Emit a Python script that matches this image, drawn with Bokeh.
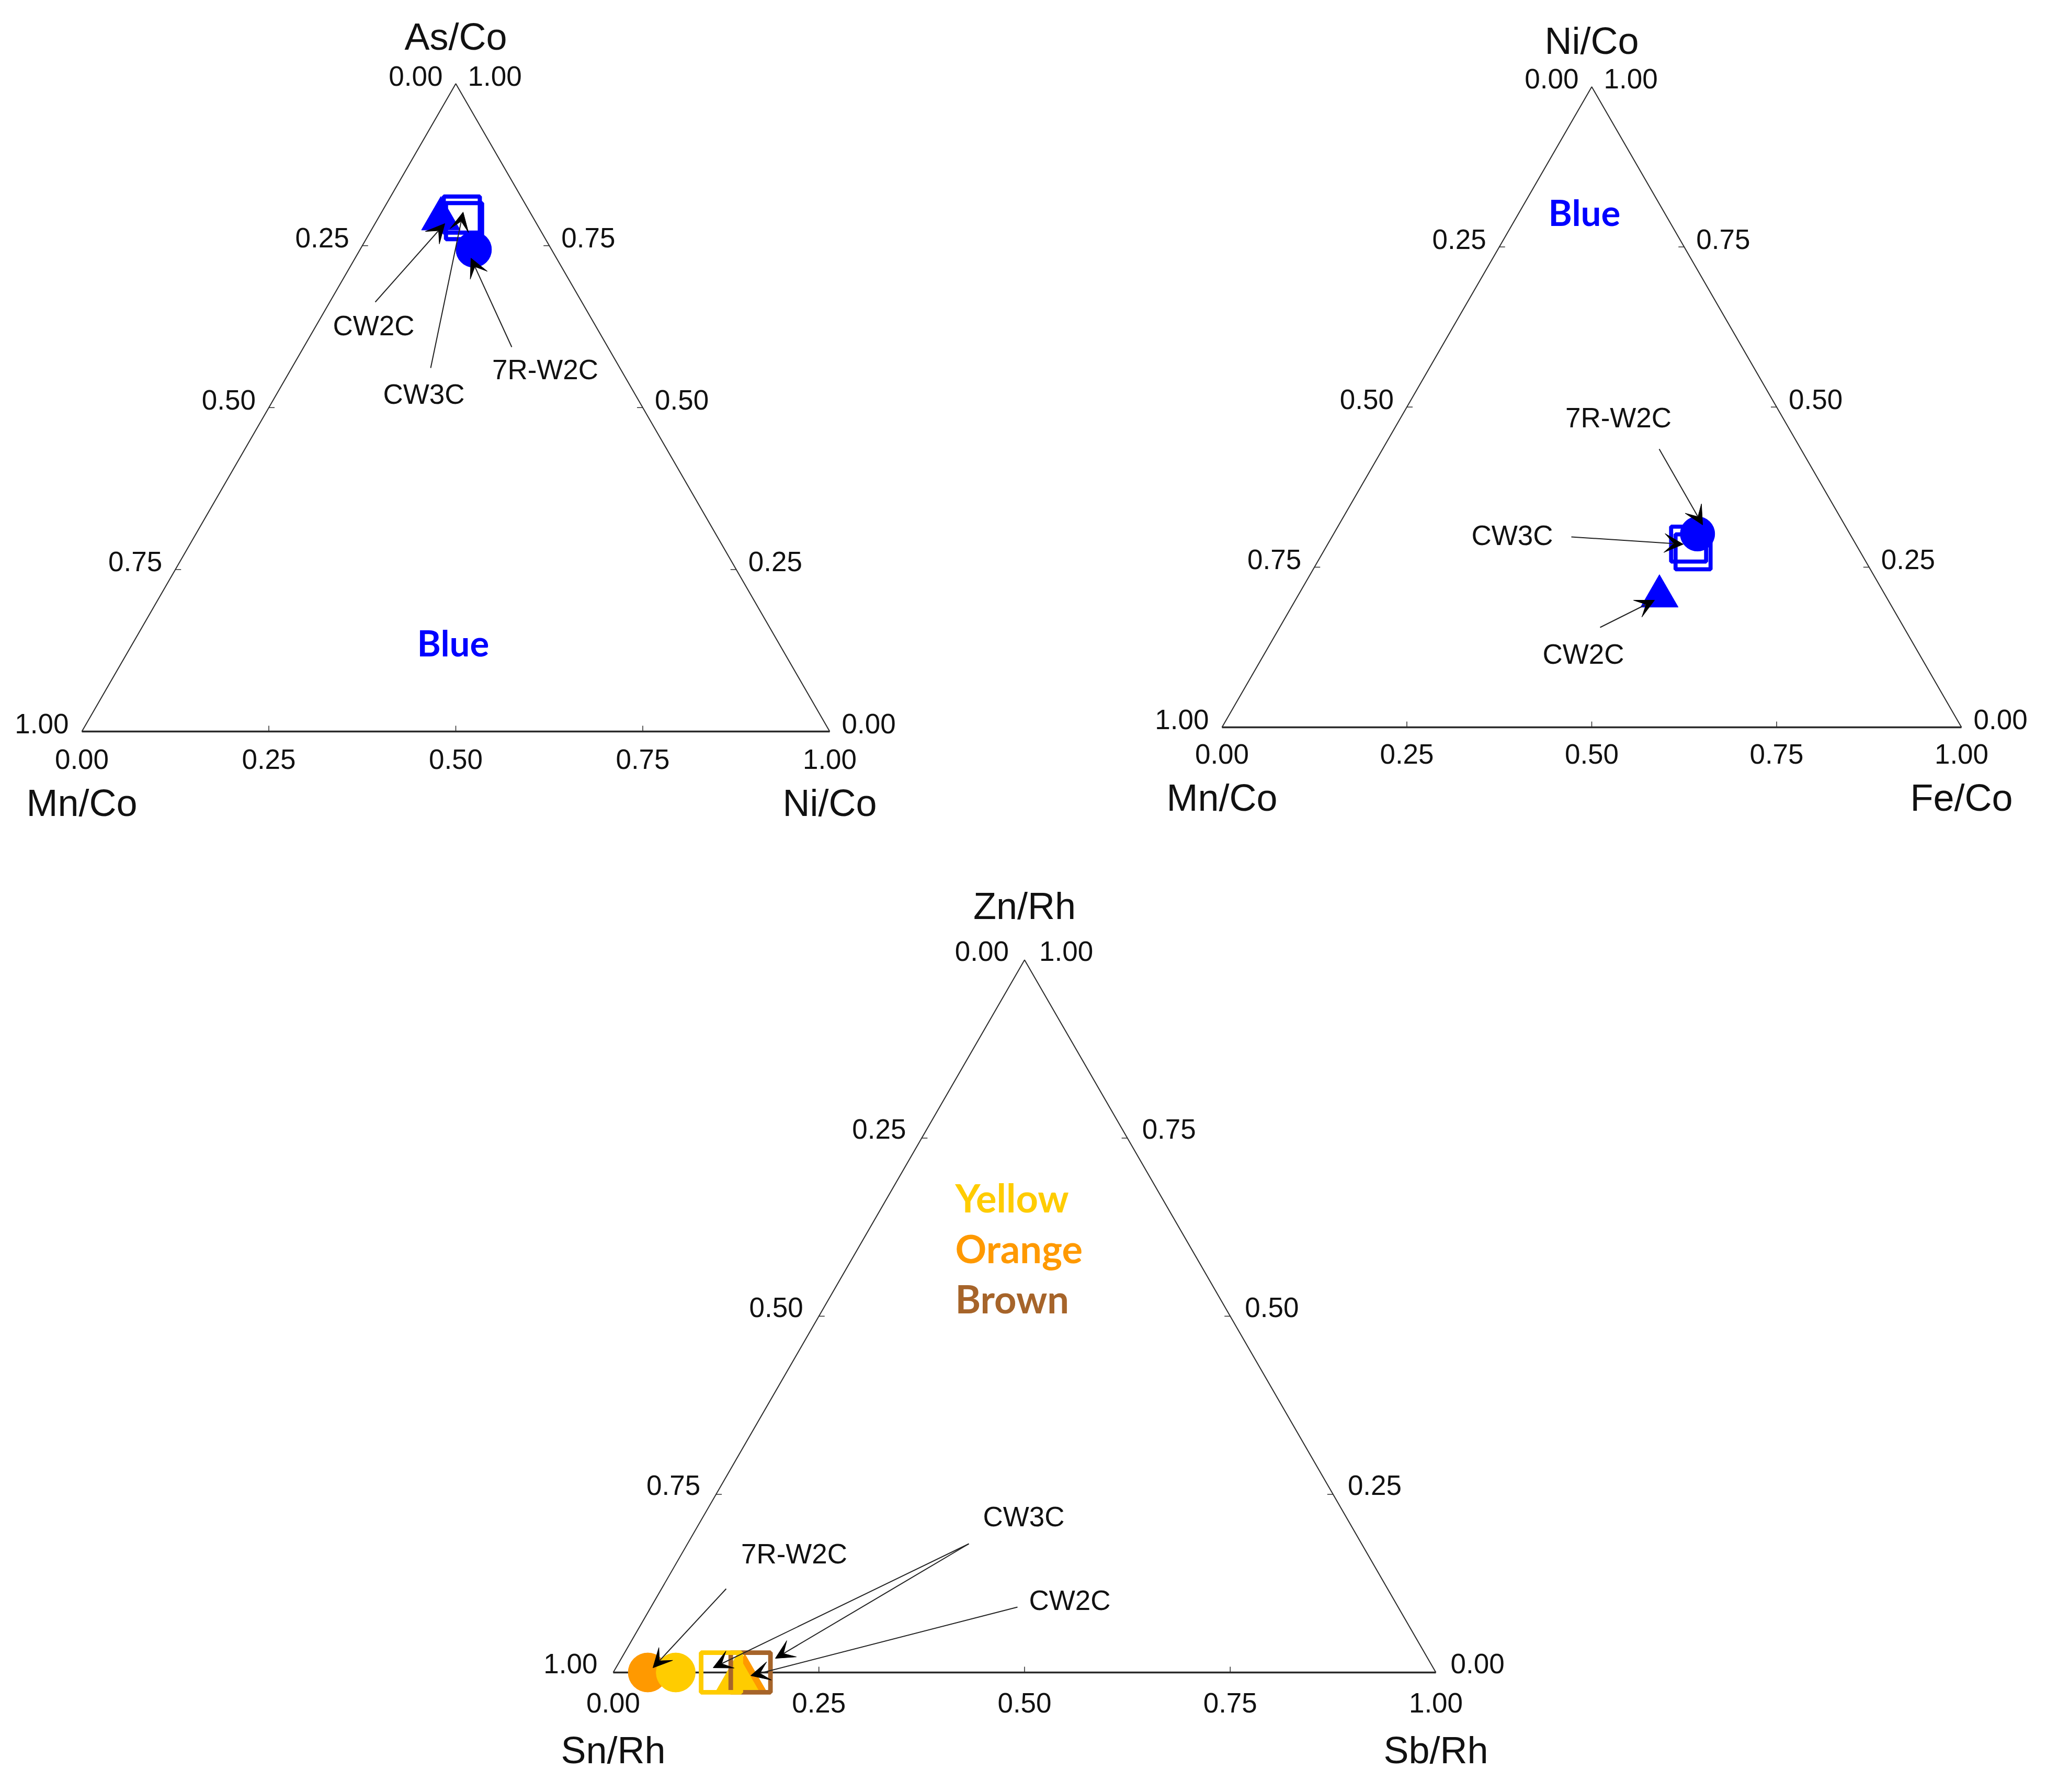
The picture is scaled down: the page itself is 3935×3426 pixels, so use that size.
import math
from bokeh.plotting import figure
from bokeh.models import Range1d, Arrow, VeeHead
from bokeh.core.properties import value
from bokeh.embed import file_html
from bokeh.resources import INLINE

# ---------------- data ----------------
tick_values = [0.0, 0.25, 0.5, 0.75, 1.0]
tick_labels = ["0.00", "0.25", "0.50", "0.75", "1.00"]

# Panel 1 (top-left): apex As/Co, left Mn/Co, right Ni/Co
p1_titles = ["As/Co", "Mn/Co", "Ni/Co"]
p1_markers = ["triangle", "square", "square", "circle"]
p1_colors = ["Blue", "Blue", "Blue", "Blue"]
p1_as = [0.800, 0.798, 0.788, 0.744]
p1_mn = [0.120, 0.093, 0.095, 0.104]
p1_ni = [0.080, 0.109, 0.117, 0.152]
p1_group_text = ["Blue"]

# Panel 2 (top-right): apex Ni/Co, left Mn/Co, right Fe/Co
p2_titles = ["Ni/Co", "Mn/Co", "Fe/Co"]
p2_markers = ["triangle", "square", "square", "circle"]
p2_colors = ["Blue", "Blue", "Blue", "Blue"]
p2_ni = [0.213, 0.286, 0.274, 0.302]
p2_mn = [0.302, 0.226, 0.226, 0.206]
p2_fe = [0.485, 0.488, 0.500, 0.492]
p2_group_text = ["Blue"]

# Panel 3 (bottom): apex Zn/Rh, left Sn/Rh, right Sb/Rh
p3_titles = ["Zn/Rh", "Sn/Rh", "Sb/Rh"]
p3_markers = ["triangle", "triangle", "square", "square", "circle", "circle"]
p3_colors = ["Orange", "Yellow", "Brown", "Yellow", "Orange", "Yellow"]
p3_zn = [0.000, 0.000, 0.000, 0.000, 0.000, 0.000]
p3_sb = [0.160, 0.151, 0.167, 0.131, 0.042, 0.076]
p3_sn = [0.840, 0.849, 0.833, 0.869, 0.958, 0.924]
p3_group_text = ["Yellow", "Orange", "Brown"]

palette = {"Blue": "#0000FF", "Yellow": "#FFCC00", "Orange": "#FF9900", "Brown": "#A6642A"}

# ---------------- layout ----------------
W, H = 3919, 3410
p = figure(width=W, height=H, x_range=Range1d(0, W), y_range=Range1d(H, 0),
           output_backend="svg", toolbar_location=None, min_border=0,
           x_axis_type=None, y_axis_type=None)
p.grid.visible = False
p.outline_line_color = None
p.background_fill_color = "white"

ARIAL = value("Liberation Sans")
CAL = value("Lato")

geoms = [
    dict(x0=156, y0=1398, L=1430, side_dx=25, side_dy=15, bot_dy=53, ttl_top=90, ttl_bot=136, mk=1.0),
    dict(x0=2336, y0=1390, L=1414, side_dx=25, side_dy=15, bot_dy=51, ttl_top=88, ttl_bot=134, mk=0.97),
    dict(x0=1172, y0=3197, L=1573, side_dx=30, side_dy=17, bot_dy=58, ttl_top=103, ttl_bot=148, mk=1.1),
]
for g in geoms:
    g["Hh"] = g["L"] * math.sqrt(3) / 2


def txy(g, top, right):
    return g["x0"] + g["L"] * (right + top / 2.0), g["y0"] - g["Hh"] * top


def draw_frame(g, titles):
    x0, y0, L, Hh = g["x0"], g["y0"], g["L"], g["Hh"]
    ax, ay = x0 + L / 2, y0 - Hh
    bl = (x0, y0)
    br = (x0 + L, y0)
    p.line([bl[0], ax, br[0]], [bl[1], ay, br[1]], line_color="#2a2a2a", line_width=2)
    p.line([bl[0], br[0]], [bl[1], br[1]], line_color="#2a2a2a", line_width=3.5)
    sx0, sy0, sx1, sy1 = [], [], [], []
    for t in tick_values[1:-1]:
        bx = x0 + L * t
        sx0 += [bx]; sy0 += [y0]; sx1 += [bx]; sy1 += [y0 - 11]
        lx, ly = ax + t * (bl[0] - ax), ay + t * (bl[1] - ay)
        sx0 += [lx]; sy0 += [ly]; sx1 += [lx + 11]; sy1 += [ly]
        rx, ry = ax + t * (br[0] - ax), ay + t * (br[1] - ay)
        sx0 += [rx]; sy0 += [ry]; sx1 += [rx - 11]; sy1 += [ry]
    p.segment(sx0, sy0, sx1, sy1, line_color="#2a2a2a", line_width=1.5)
    lxs, lys, ltx = [], [], []
    rxs, rys, rtx = [], [], []
    bxs, bys, btx = [], [], []
    for i, (t, lab) in enumerate(zip(tick_values, tick_labels)):
        lx, ly = ax + t * (bl[0] - ax), ay + t * (bl[1] - ay)
        lxs.append(lx - g["side_dx"]); lys.append(ly - g["side_dy"]); ltx.append(lab)
        rx, ry = ax + t * (br[0] - ax), ay + t * (br[1] - ay)
        rxs.append(rx + g["side_dx"] - 2); rys.append(ry - g["side_dy"]); rtx.append(tick_labels[4 - i])
        bxs.append(x0 + L * t); bys.append(y0 + g["bot_dy"]); btx.append(lab)
    common = dict(text_font=ARIAL, text_font_size="53px", text_color="#111111", text_baseline="middle")
    p.text(lxs, lys, text=ltx, text_align="right", **common)
    p.text(rxs, rys, text=rtx, text_align="left", **common)
    p.text(bxs, bys, text=btx, text_align="center", **common)
    p.text([ax, x0, x0 + L], [ay - g["ttl_top"], y0 + g["ttl_bot"], y0 + g["ttl_bot"]], text=titles,
           text_align="center", text_baseline="middle", text_font=ARIAL, text_font_size="72px",
           text_color="#111111")


def draw_points(g, markers, colors, tops, rights):
    k = g["mk"]
    xs, ys = zip(*[txy(g, a, b) for a, b in zip(tops, rights)])
    for m in ["triangle", "square", "circle"]:
        idx = [i for i, mm in enumerate(markers) if mm == m]
        if not idx:
            continue
        cols = [palette[colors[i]] for i in idx]
        if m == "triangle":
            s = 74 * k
            p.scatter([xs[i] for i in idx], [ys[i] + s * math.sqrt(3) / 2 / 6 for i in idx], marker="triangle",
                      size=s, fill_color=cols, line_color=cols, line_width=1)
        elif m == "square":
            p.scatter([xs[i] for i in idx], [ys[i] for i in idx], marker="square", size=69 * k,
                      fill_color=None, line_color=cols, line_width=8 * k)
        else:
            p.scatter([xs[i] for i in idx], [ys[i] for i in idx], marker="circle", size=68 * k,
                      fill_color=cols, line_color=cols, line_width=1)


def annotate(label, tx, ty, arrows):
    p.text([tx], [ty], text=[label], text_align="center", text_baseline="middle",
           text_font=ARIAL, text_font_size="53px", text_color="#111111")
    for (xs_, ys_, xe, ye) in arrows:
        p.add_layout(Arrow(x_start=xs_, y_start=ys_, x_end=xe, y_end=ye, line_color="#222222", line_width=2,
                           end=VeeHead(size=36, fill_color="black", line_color="black", line_width=1)))


# ---- panel 1 ----
g1 = geoms[0]
draw_frame(g1, p1_titles)
draw_points(g1, p1_markers, p1_colors, p1_as, p1_ni)
p.text([866], [1228], text=p1_group_text, text_align="center", text_baseline="alphabetic",
       text_font=CAL, text_font_style="bold", text_font_size="69px", text_color=palette["Blue"])
annotate("CW2C", 714, 622, [(717, 577, 850, 427)])
annotate("CW3C", 810, 753, [(823, 703, 885, 405)])
annotate("7R-W2C", 1042, 706, [(978, 663, 900, 493)])

# ---- panel 2 ----
g2 = geoms[1]
draw_frame(g2, p2_titles)
draw_points(g2, p2_markers, p2_colors, p2_ni, p2_fe)
p.text([3029], [405], text=p2_group_text, text_align="center", text_baseline="alphabetic",
       text_font=CAL, text_font_style="bold", text_font_size="69px", text_color=palette["Blue"])
annotate("7R-W2C", 3094, 798, [(3172, 858, 3255, 1003)])
annotate("CW3C", 2891, 1023, [(3004, 1026, 3218, 1040)])
annotate("CW2C", 3027, 1250, [(3059, 1199, 3163, 1147)])

# ---- panel 3 ----
g3 = geoms[2]
draw_frame(g3, p3_titles)
draw_points(g3, p3_markers, p3_colors, p3_zn, p3_sb)
for name, yb in zip(p3_group_text, [2289, 2386, 2482]):
    p.text([1826], [yb], text=[name], text_align="left", text_baseline="alphabetic",
           text_font=CAL, text_font_style="bold", text_font_size="74px", text_color=palette[name])
annotate("7R-W2C", 1518, 2970, [(1388, 3037, 1248, 3188)])
annotate("CW3C", 1957, 2899, [(1852, 2951, 1363, 3188), (1852, 2951, 1482, 3170)])
annotate("CW2C", 2045, 3059, [(1945, 3072, 1435, 3203)])

open("out.html", "w").write(file_html(p, INLINE))
